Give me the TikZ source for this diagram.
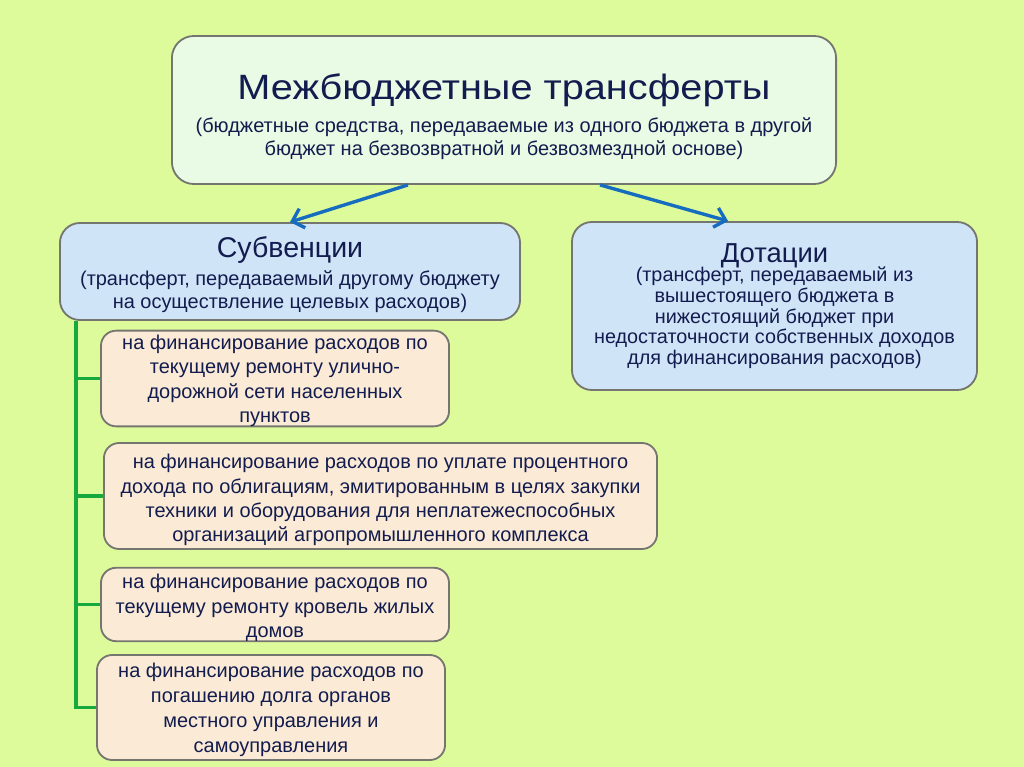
\documentclass[tikz,border=0pt]{standalone}
\usepackage{fontspec}
\setmainfont{Liberation Sans}
\newfontfamily\titlefont[FakeStretch=1.13]{Liberation Sans}
\usetikzlibrary{arrows.meta,calc}
\definecolor{bgc}{RGB}{222,251,156}
\definecolor{topfill}{RGB}{233,251,228}
\definecolor{bluefill}{RGB}{208,228,248}
\definecolor{beigefill}{RGB}{251,234,214}
\definecolor{edgec}{RGB}{118,118,112}
\definecolor{txtc}{RGB}{18,28,78}
\definecolor{arrc}{RGB}{22,108,190}
\definecolor{grn}{RGB}{22,170,62}
\tikzset{
  boxbase/.style={draw=edgec, line width=1.3pt, text=txtc, align=center, inner sep=0pt},
  topbox/.style={boxbase, fill=topfill, rounded corners=0.55cm, font=\fontsize{14.2}{16.6}\selectfont},
  bluebox/.style={boxbase, fill=bluefill, rounded corners=0.5cm, font=\fontsize{14.2}{16.6}\selectfont},
  beigebox/.style={boxbase, fill=beigefill, rounded corners=0.38cm, font=\fontsize{14.2}{17.2}\selectfont},
  bluearrow/.style={draw=arrc, line width=2.4pt, -{Straight Barb[length=2.6mm,width=5mm,line width=2.4pt]}},
  grnline/.style={draw=grn, line width=2.8pt}
}
\begin{document}
\begin{tikzpicture}[x=0.025cm,y=-0.025cm]
\fill[bgc] (0,0) rectangle (1024,767);
\useasboundingbox (0,0) rectangle (1024,767);

\node[topbox, minimum width=16.6cm, minimum height=3.7cm] (top) at (504,110)
 {\rule{0pt}{28.2pt}{\titlefont\fontsize{25}{28}\selectfont Межбюджетные трансферты}\\[6.9pt]
  (бюджетные средства, передаваемые из одного бюджета в другой\\
  бюджет на безвозвратной и безвозмездной основе)};

\node[bluebox, minimum width=11.5cm, minimum height=2.425cm] (sub) at (290,271.5)
 {\rule{0pt}{19.5pt}{\fontsize{20.3}{22}\selectfont Субвенции}\\[3pt]
  (трансферт, передаваемый другому бюджету\\
  на осуществление целевых расходов)};

\node[bluebox, minimum width=10.125cm, minimum height=4.2cm, font=\fontsize{14.1}{14.8}\selectfont] (dot) at (774.5,306)
 {{\fontsize{19.5}{22}\selectfont Дотации}\\[-1pt]
  (трансферт, передаваемый из\\
  вышестоящего бюджета в\\
  нижестоящий бюджет при\\
  недостаточности собственных доходов\\
  для финансирования расходов)};

\node[beigebox, minimum width=8.7cm, minimum height=2.325cm] (b1) at (275,378.5)
 {\rule{0pt}{13.5pt}на финансирование расходов по\\
  текущему ремонту улично-\\
  дорожной сети населенных\\
  пунктов};

\node[beigebox, minimum width=13.825cm, minimum height=2.65cm] (b2) at (380.5,496)
 {\rule{0pt}{16pt}на финансирование расходов по уплате процентного\\
  дохода по облигациям, эмитированным в целях закупки\\
  техники и оборудования для неплатежеспособных\\
  организаций агропромышленного комплекса};

\node[beigebox, minimum width=8.7cm, minimum height=1.825cm] (b3) at (275,604.5)
 {\rule{0pt}{15pt}на финансирование расходов по\\
  текущему ремонту кровель жилых\\
  домов};

\node[beigebox, minimum width=8.7cm, minimum height=2.625cm, font=\fontsize{14.2}{17.8}\selectfont] (b4) at (271,707.5)
 {\rule{0pt}{13.5pt}на финансирование расходов по\\
  погашению долга органов\\
  местного управления и\\
  самоуправления};

\draw[bluearrow] ([xshift=-2.4cm]top.south) -- (sub.north);
\draw[bluearrow] ([xshift=2.4cm]top.south) -- ([xshift=-1.16cm]dot.north);

\coordinate (trunk) at ([xshift=0.425cm]sub.south west);
\draw[grnline] (trunk) |- (b4.west);
\draw[grnline] (b1.west) -- (b1.west -| trunk);
\draw[grnline] (b2.west) -- (b2.west -| trunk);
\draw[grnline] (b3.west) -- (b3.west -| trunk);
\end{tikzpicture}
\end{document}
